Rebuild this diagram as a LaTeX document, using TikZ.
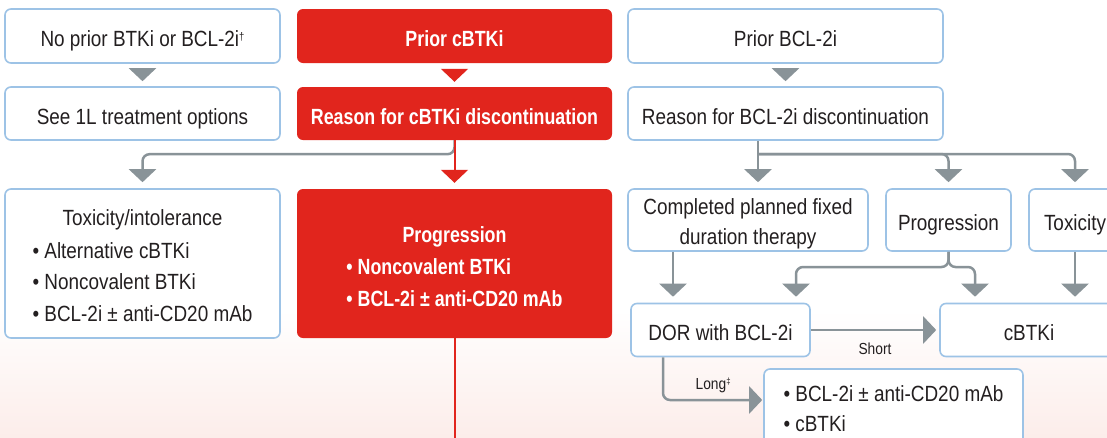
\documentclass[tikz,border=0pt]{standalone}
\usepackage{fontspec}
\setmainfont{Liberation Sans}[FakeStretch=0.86,BoldFeatures={FakeStretch=0.81}]
\usepackage{tikz}
\usetikzlibrary{arrows.meta}
\definecolor{boxred}{RGB}{225,37,29}
\definecolor{boxblue}{RGB}{157,195,230}
\definecolor{linegray}{RGB}{137,147,152}
\definecolor{ink}{RGB}{35,31,32}
\definecolor{pinkbg}{RGB}{252,237,234}
\tikzset{blue node/.style={draw=boxblue,line width=1.6pt,rounded corners=6pt,fill=white,text=ink,align=center,inner sep=0pt,font=\fontsize{22}{30}\selectfont},
  red node/.style={fill=boxred,rounded corners=6pt,text=white,align=center,inner sep=0pt,font=\fontsize{22}{31.5}\selectfont\bfseries},
  one line/.style={text height=21pt,text depth=0pt},
  gray arrow/.style={draw=linegray,line width=2.5pt,rounded corners=7pt,-{Triangle[width=27pt,length=13pt]},shorten >=6pt},
  red arrow/.style={draw=boxred,line width=2pt,-{Triangle[width=27pt,length=13pt]},shorten >=6pt},
  small label/.style={text=ink,inner sep=0pt,font=\fontsize{16}{18}\selectfont},}

\begin{document}
\begin{tikzpicture}[x=1pt,y=-1pt]
    \useasboundingbox (0,0) rectangle (1107,437);
    \clip (0,0) rectangle (1107,437);
    \fill[white] (0,0) rectangle (1107,310);
    \fill[top color=white,bottom color=pinkbg] (0,310) rectangle (1107,437);

    % first two rows
    \node[blue node,one line,minimum width=275pt,minimum height=54pt] (noprior) at (142.5,36) {No prior BTKi or BCL-2i\raisebox{6pt}{\fontsize{11}{11}\selectfont †}};
    \node[blue node,one line,minimum width=275pt,minimum height=53pt] (see1l) at (142.5,113.5) {See 1L treatment options};
    \node[red node,one line,minimum width=315pt,minimum height=54pt] (priorbtk) at (454.5,36) {Prior cBTKi};
    \node[red node,one line,minimum width=315pt,minimum height=53pt] (whybtk) at (454.5,113.5) {Reason for cBTKi discontinuation};
    \node[blue node,one line,minimum width=315pt,minimum height=54pt] (priorbcl) at (785.5,36) {Prior BCL-2i};
    \node[blue node,one line,minimum width=315pt,minimum height=53pt] (whybcl) at (785.5,113.5) {Reason for BCL-2i discontinuation};

    % reasons
    \node[blue node,minimum width=275pt,minimum height=149pt,font=\fontsize{22}{31.5}\selectfont] (tox) at (142.5,263.5)
        {\rule{0pt}{29pt}Toxicity/intolerance\\[5pt]\begin{tabular}{@{}l@{}}• Alternative cBTKi\\ • Noncovalent BTKi\\ • BCL-2i ± anti-CD20 mAb\end{tabular}};
    \node[red node,minimum width=315pt,minimum height=149pt] (prog) at (454.5,263.5)
        {\rule{0pt}{31pt}Progression\\[5pt]\begin{tabular}{@{}l@{}}• Noncovalent BTKi\\ • BCL-2i ± anti-CD20 mAb\end{tabular}};
    \node[blue node,minimum width=240pt,minimum height=62pt] (done) at (748,220) {\rule{0pt}{24pt}Completed planned fixed\\duration therapy};
    \node[blue node,one line,minimum width=125pt,minimum height=62pt] (prog2) at (948.5,220) {Progression};
    \node[blue node,one line,minimum width=92pt,minimum height=62pt] (tox2) at (1075,220) {Toxicity};

    % last rows
    \node[blue node,one line,minimum width=179pt,minimum height=53pt] (dor) at (720.5,330) {DOR with BCL-2i};
    \node[blue node,one line,minimum width=178pt,minimum height=53pt] (cbtk) at (1029,330) {cBTKi};
    \node[blue node,minimum width=259pt,minimum height=82pt,font=\fontsize{22}{30}\selectfont] (opts) at (893.5,410)
        {\begin{tabular}{@{}l@{}}• BCL-2i ± anti-CD20 mAb\\ • cBTKi\end{tabular}};

    \coordinate (split) at (758,154);
    \coordinate (dl) at (673,0);
    \coordinate (pj) at (948.5,267);
    \coordinate (dr) at (796,0);
    \coordinate (cr) at (975,0);
    \coordinate (lg) at (663,400);
    \coordinate (low) at (0,445);

    % connectors
    \draw[gray arrow,shorten <=6pt,shorten >=5pt] (noprior) -- (see1l);
    \draw[gray arrow,shorten <=6pt,shorten >=5pt] (priorbcl) -- (whybcl);
    \draw[red arrow,shorten <=6pt,shorten >=5pt] (priorbtk) -- (whybtk);
    \draw[gray arrow] (whybtk.south) -- ++(0,14) -| (tox.north);
    \draw[red arrow] (whybtk.south) -- (prog.north);
    \draw[boxred,line width=2pt] (prog.south) -- (prog.south |- low);
    \draw[gray arrow] (whybcl.south -| split) -- (split |- done.north);
    \draw[gray arrow] (split) -| (prog2.north);
    \draw[gray arrow] (split) -| (tox2.north);
    \draw[gray arrow] (done.south -| dl) -- (dor.north -| dl);
    \draw[gray arrow] (prog2.south) |- (dr |- pj) -- (dr |- dor.north);
    \draw[gray arrow] (prog2.south) |- (cr |- pj) -- (cr |- cbtk.north);
    \draw[gray arrow] (tox2.south) -- (tox2.south |- cbtk.north);
    \draw[gray arrow,shorten >=3pt] (dor.east) -- (cbtk.west) node[small label,midway,below=12pt] {Short};
    \draw[gray arrow,shorten >=1pt] (dor.south -| lg) |- (opts.west |- lg) node[small label,pos=0.75,above=6pt] {Long\raisebox{5pt}{\fontsize{9}{9}\selectfont ‡}};
\end{tikzpicture}
\end{document}
